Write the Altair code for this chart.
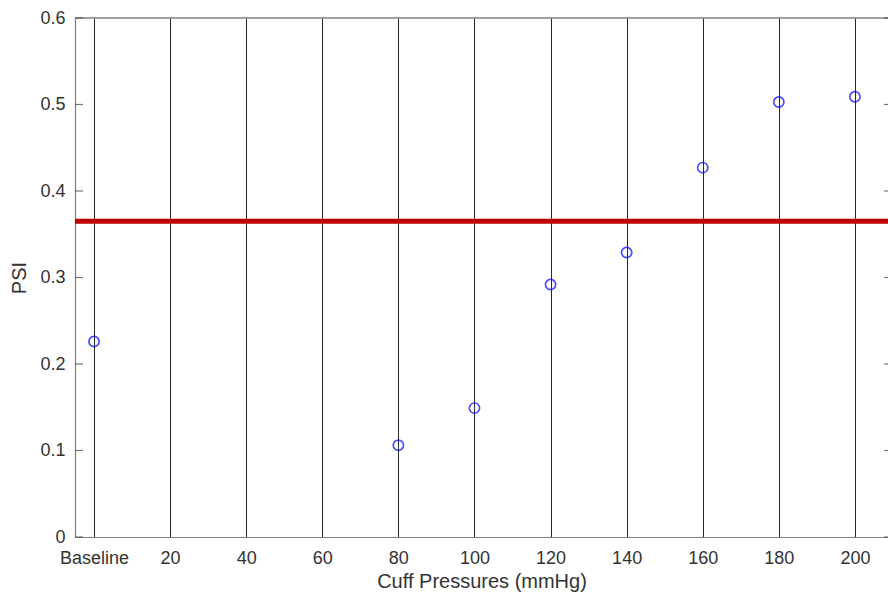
import altair as alt
import pandas as pd

# ---- data ----
cuff_pressure = [0, 80, 100, 120, 140, 160, 180, 200]
psi_values = [0.226, 0.106, 0.149, 0.292, 0.329, 0.427, 0.503, 0.509]
threshold = [0.365]
x_ticks = [0, 20, 40, 60, 80, 100, 120, 140, 160, 180, 200]
y_ticks = [0.0, 0.1, 0.2, 0.3, 0.4, 0.5, 0.6]

df = pd.DataFrame({"pressure": cuff_pressure, "psi": psi_values})
thr_df = pd.DataFrame({"thr": threshold})
yt_df = pd.DataFrame({"yt": y_ticks})

W, H = 813, 519
FONT = "Liberation Sans"
TXT = "#333333"

xscale = alt.Scale(domain=[-5, 208.7], nice=False, zero=False)
yscale = alt.Scale(domain=[0, 0.6], nice=False, zero=False)

x_axis = alt.Axis(
    values=x_ticks, grid=True, gridColor="#262626", gridWidth=1,
    ticks=False, domain=True, domainColor="#808080", domainWidth=1.2,
    labelExpr="datum.value == 0 ? 'Baseline' : datum.label",
    labelFont=FONT, labelFontSize=18, labelColor=TXT, labelPadding=12,
    title="Cuff Pressures (mmHg)", titleFont=FONT, titleFontSize=20,
    titleFontWeight="normal", titleColor=TXT, titlePadding=4,
)
y_axis = alt.Axis(
    values=y_ticks, grid=False, ticks=False, domain=True,
    domainColor="#808080", domainWidth=1.2, format="~g",
    labelFont=FONT, labelFontSize=18, labelColor=TXT, labelPadding=10,
    title="PSI", titleFont=FONT, titleFontSize=20, titleFontWeight="normal",
    titleColor=TXT, titlePadding=10,
)

points = alt.Chart(df).mark_point(
    shape="circle", filled=False, color="#0000FF", size=105, strokeWidth=1.7
).encode(
    x=alt.X("pressure:Q", scale=xscale, axis=x_axis),
    y=alt.Y("psi:Q", scale=yscale, axis=y_axis),
)

red_line = alt.Chart(thr_df).mark_rule(color="#C00000", strokeWidth=5).encode(
    y=alt.Y("thr:Q", scale=yscale)
)

left_ticks = alt.Chart(yt_df).mark_tick(
    orient="horizontal", color="#404040", size=8, thickness=1.2
).encode(y=alt.Y("yt:Q", scale=yscale), x=alt.value(4))

right_ticks = alt.Chart(yt_df).mark_tick(
    orient="horizontal", color="#404040", size=8, thickness=1.2
).encode(y=alt.Y("yt:Q", scale=yscale), x=alt.value(W))

top_line = alt.Chart(thr_df).mark_rule(color="#808080", strokeWidth=1.5).encode(
    x=alt.value(0), x2=alt.value(W), y=alt.value(0)
)

chart = alt.layer(red_line, top_line, left_ticks, right_ticks, points).properties(
    width=W, height=H,
    autosize=alt.AutoSizeParams(type="none"),
    padding={"left": 75, "top": 18, "right": 0, "bottom": 58},
    background="white",
).configure_view(stroke=None)

chart.save("out.html", embed_options={"renderer": "svg", "actions": False})
